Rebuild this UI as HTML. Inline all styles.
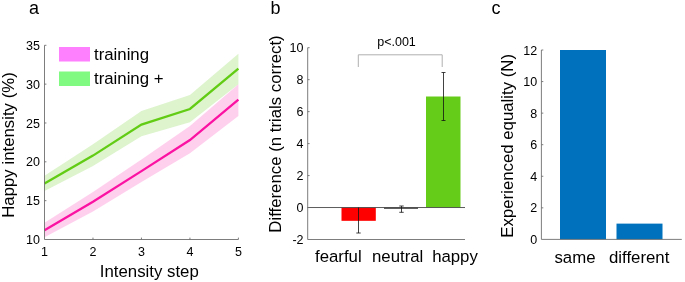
<!DOCTYPE html>
<html><head><meta charset="utf-8">
<style>
html,body{margin:0;padding:0;background:#fff;}
body{width:685px;height:282px;overflow:hidden;}
svg{display:block;will-change:transform;}
text{font-family:"Liberation Sans",sans-serif;fill:#000;}
.tk{font-size:12.5px;fill:#363636;}
.ax{stroke:#6e6e6e;stroke-width:0.9;fill:none;}
.lb{font-size:16.8px;}
</style></head><body>
<svg width="685" height="282" viewBox="0 0 685 282">
<rect width="685" height="282" fill="#fff"/>

<text x="29" y="14.1" style="font-size:18px">a</text>
<polygon points="44.5,175.8 92.97,144.34 141.45,110.94 189.93,95.02 238.4,53.84 238.4,84.14 189.93,122.2 141.45,136.19 92.97,166.09 44.5,190.95" fill="#66cc1a" fill-opacity="0.22"/>
<polygon points="44.5,222.64 92.97,192.12 141.45,159.49 189.93,126.09 238.4,84.14 238.4,115.99 189.93,153.28 141.45,182.02 92.97,211.54 44.5,237.17" fill="#ff22aa" fill-opacity="0.21"/>
<polyline points="44.5,183.57 92.97,155.61 141.45,124.53 189.93,109 238.4,68.6" fill="none" stroke="#62cc14" stroke-width="2.3"/>
<polyline points="44.5,230.18 92.97,201.83 141.45,171.14 189.93,140.07 238.4,99.68" fill="none" stroke="#fb12a2" stroke-width="2.3"/>
<path class="ax" d="M44.5,45.3 V239.5 H238.4"/>
<path class="ax" d="M44.5,200.66 h1.9 M44.5,161.82 h1.9 M44.5,122.98 h1.9 M44.5,84.14 h1.9 M44.5,45.3 h1.9 M92.97,239.5 v-1.9 M141.45,239.5 v-1.9 M189.93,239.5 v-1.9 M238.4,239.5 v-1.9 "/>
<g class="tk" text-anchor="end"><text x="40" y="49.9">35</text><text x="40" y="88.74">30</text><text x="40" y="127.58">25</text><text x="40" y="166.42">20</text><text x="40" y="205.26">15</text><text x="40" y="244.1">10</text></g>
<g class="tk" text-anchor="middle"><text x="44.5" y="256">1</text><text x="92.97" y="256">2</text><text x="141.45" y="256">3</text><text x="189.93" y="256">4</text><text x="238.4" y="256">5</text></g>
<text class="lb" x="149.3" y="277.3" text-anchor="middle">Intensity step</text>
<text class="lb" transform="translate(14.2,145) rotate(-90)" text-anchor="middle">Happy intensity (%)</text>
<rect x="59" y="47" width="31" height="14.5" fill="#ff80ff"/>
<rect x="59" y="71.5" width="31" height="14.5" fill="#80fa80"/>
<text class="lb" x="94" y="59.5">training</text>
<text class="lb" x="94" y="84">training +</text>
<text x="270.5" y="14.1" style="font-size:18px">b</text>
<rect x="341.5" y="207.53" width="34.3" height="13.3" fill="#ff0000"/>
<rect x="384" y="207.33" width="34" height="1.6" fill="#555"/>
<rect x="426" y="96.5" width="34.5" height="111.03" fill="#66cc1a"/>
<path class="ax" d="M307.7,47.7 V239.5 H465"/>
<path d="M307.7,207.53 H465" stroke="#4a4a4a" stroke-width="0.9" fill="none"/>
<path class="ax" d="M307.7,207.53 h1.9 M307.7,175.57 h1.9 M307.7,143.6 h1.9 M307.7,111.63 h1.9 M307.7,79.67 h1.9 M307.7,47.7 h1.9 "/>
<path d="M358.5,207.5 V233 M356.3,233 h4.4" stroke="#111" stroke-width="0.8" fill="none"/>
<path d="M401.5,206 V212.3 M399.3,206 h4.4 M399.3,212.3 h4.4" stroke="#111" stroke-width="0.8" fill="none"/>
<path d="M443.5,72.5 V120.5 M441.5,72.5 h4 M441.5,120.5 h4" stroke="#111" stroke-width="0.8" fill="none"/>
<path d="M358.3,67 V54.8 H442.2 V67" stroke="#b0b0b0" stroke-width="1" fill="none"/>
<text x="396.5" y="46" text-anchor="middle" style="font-size:12.5px">p&lt;.001</text>
<g class="tk" text-anchor="end"><text x="303.5" y="52.3">10</text><text x="303.5" y="84.27">8</text><text x="303.5" y="116.23">6</text><text x="303.5" y="148.2">4</text><text x="303.5" y="180.17">2</text><text x="303.5" y="212.13">0</text><text x="303.5" y="244.1">-2</text></g>
<g class="lb" text-anchor="middle"><text x="338.3" y="261.5">fearful</text><text x="397.7" y="261.5">neutral</text><text x="455" y="261.5">happy</text></g>
<text class="lb" transform="translate(281.4,134) rotate(-90)" text-anchor="middle">Difference (n trials correct)</text>
<text x="491.6" y="14.1" style="font-size:18px">c</text>
<rect x="560" y="50" width="46" height="189.4" fill="#0072bd"/>
<rect x="616.5" y="223.62" width="46" height="15.78" fill="#0072bd"/>
<path class="ax" d="M541.4,50 V239.4 H681.8"/>
<path class="ax" d="M541.4,207.83 h1.9 M541.4,176.27 h1.9 M541.4,144.7 h1.9 M541.4,113.13 h1.9 M541.4,81.57 h1.9 M541.4,50 h1.9 "/>
<g class="tk" text-anchor="end"><text x="537.2" y="54.6">12</text><text x="537.2" y="86.17">10</text><text x="537.2" y="117.73">8</text><text x="537.2" y="149.3">6</text><text x="537.2" y="180.87">4</text><text x="537.2" y="212.43">2</text><text x="537.2" y="244">0</text></g>
<g class="lb" text-anchor="middle"><text x="575" y="262.7">same</text><text x="639.2" y="262.7">different</text></g>
<text class="lb" transform="translate(512.5,145.8) rotate(-90)" text-anchor="middle">Experienced equality (N)</text>
</svg>
</body></html>
